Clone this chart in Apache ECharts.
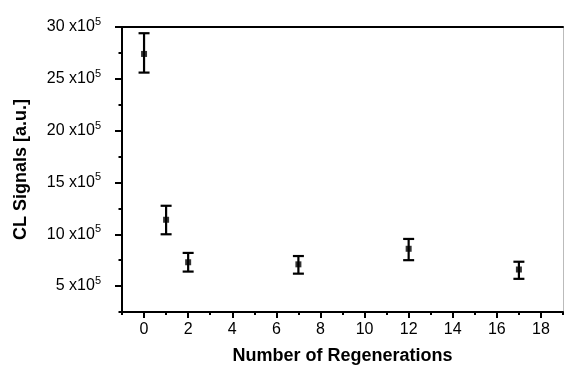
<!DOCTYPE html>
<html>
<head>
<meta charset="utf-8">
<script src="https://cdn.jsdelivr.net/npm/echarts@6/dist/echarts.min.js"></script>
<style>
  html, body { margin: 0; padding: 0; background: #fff; }
  #chart { width: 564px; height: 365px; }
</style>
</head>
<body>
<div id="chart"></div>
<script>
// data, CL signal in units of 10^5
var regenerations = [0, 1, 2, 7, 12, 17];
var signalMean = [27.4, 11.4, 7.3, 7.1, 8.6, 6.6];
var signalLow = [25.6, 10.0, 6.4, 6.2, 7.5, 5.7];
var signalHigh = [29.4, 12.75, 8.2, 7.9, 9.55, 7.35];
// major tick positions
var xMajorTicks = [0, 2, 4, 6, 8, 10, 12, 14, 16, 18];
var yMajorTicks = [5, 10, 15, 20, 25, 30];

var chart = echarts.init(document.getElementById('chart'));

var pointData = [], barData = [];
for (var i = 0; i < regenerations.length; i++) {
  pointData.push([regenerations[i], signalMean[i]]);
  barData.push([regenerations[i], signalLow[i], signalHigh[i]]);
}

var labelFont = 'Liberation Sans, Arial, sans-serif';
var black = '#000';

function renderErrorBar(params, api) {
  var lo = api.coord([api.value(0), api.value(1)]);
  var hi = api.coord([api.value(0), api.value(2)]);
  var cap = 5.5;
  var style = { stroke: black, lineWidth: 2.2 };
  return {
    type: 'group',
    children: [
      { type: 'line', shape: { x1: hi[0], y1: hi[1], x2: lo[0], y2: lo[1] }, style: style },
      { type: 'line', shape: { x1: hi[0] - cap, y1: hi[1], x2: hi[0] + cap, y2: hi[1] }, style: style },
      { type: 'line', shape: { x1: lo[0] - cap, y1: lo[1], x2: lo[0] + cap, y2: lo[1] }, style: style }
    ]
  };
}

chart.setOption({
  animation: false,
  backgroundColor: '#fff',
  grid: { left: 122, right: 1, top: 27, bottom: 53, outerBoundsMode: 'none' },
  xAxis: [{
    // main bottom axis: line, short ticks every 1, labels on even values
    type: 'value',
    position: 'bottom',
    min: -1,
    max: 19,
    interval: 1,
    name: 'Number of Regenerations',
    nameLocation: 'middle',
    nameGap: 35,
    nameTextStyle: { fontFamily: labelFont, fontWeight: 'bold', fontSize: 18, color: black },
    axisLine: { show: true, onZero: false, lineStyle: { color: black, width: 2 } },
    axisTick: { show: true, inside: false, length: 3, lineStyle: { color: black, width: 2 } },
    splitLine: { show: false },
    axisLabel: {
      margin: 10, fontFamily: labelFont, fontSize: 16, color: black,
      formatter: function(v) { return (v >= 0 && v % 2 === 0) ? String(v) : ''; }
    }
  }, {
    // top frame line
    type: 'value',
    position: 'top',
    min: -1,
    max: 19,
    axisLine: { show: true, onZero: false, lineStyle: { color: black, width: 2 } },
    axisTick: { show: false },
    axisLabel: { show: false },
    splitLine: { show: false }
  }, {
    // long ticks on the even values
    type: 'value',
    position: 'bottom',
    min: -1,
    max: 19,
    axisLine: { show: false, onZero: false },
    axisTick: { show: true, inside: false, length: 6, customValues: xMajorTicks, lineStyle: { color: black, width: 2 } },
    axisLabel: { show: false },
    splitLine: { show: false }
  }],
  yAxis: [{
    type: 'value',
    position: 'left',
    min: 2.5,
    max: 30,
    interval: 2.5,
    name: 'CL Signals [a.u.]',
    nameLocation: 'middle',
    nameGap: 92,
    nameTextStyle: { fontFamily: labelFont, fontWeight: 'bold', fontSize: 18, color: black },
    axisLine: { show: true, onZero: false, lineStyle: { color: black, width: 2 } },
    axisTick: { show: true, inside: false, length: 3.5, lineStyle: { color: black, width: 2 } },
    splitLine: { show: false },
    axisLabel: {
      margin: 21, fontFamily: labelFont, fontSize: 16, color: black,
      formatter: function(v) {
        if (v % 5 !== 0) return '';
        return '{a|' + v + ' x10}{s|5}';
      },
      rich: {
        a: { fontFamily: labelFont, fontSize: 16, color: black },
        s: { fontFamily: labelFont, fontSize: 11, color: black, padding: [0, 0, 10, 0] }
      }
    }
  }, {
    // faint right frame line
    type: 'value',
    position: 'right',
    min: 2.5,
    max: 30,
    axisLine: { show: true, onZero: false, lineStyle: { color: '#bbb', width: 1 } },
    axisTick: { show: false },
    axisLabel: { show: false },
    splitLine: { show: false }
  }, {
    // long ticks on multiples of 5
    type: 'value',
    position: 'left',
    min: 2.5,
    max: 30,
    axisLine: { show: false, onZero: false },
    axisTick: { show: true, inside: false, length: 7, customValues: yMajorTicks, lineStyle: { color: black, width: 2 } },
    axisLabel: { show: false },
    splitLine: { show: false }
  }],
  series: [{
    type: 'custom',
    xAxisIndex: 0,
    yAxisIndex: 0,
    renderItem: renderErrorBar,
    encode: { x: 0, y: [1, 2] },
    data: barData,
    z: 3
  }, {
    type: 'scatter',
    xAxisIndex: 0,
    yAxisIndex: 0,
    symbol: 'rect',
    symbolSize: 6,
    itemStyle: { color: black },
    data: pointData,
    z: 4
  }]
});
</script>
</body>
</html>
